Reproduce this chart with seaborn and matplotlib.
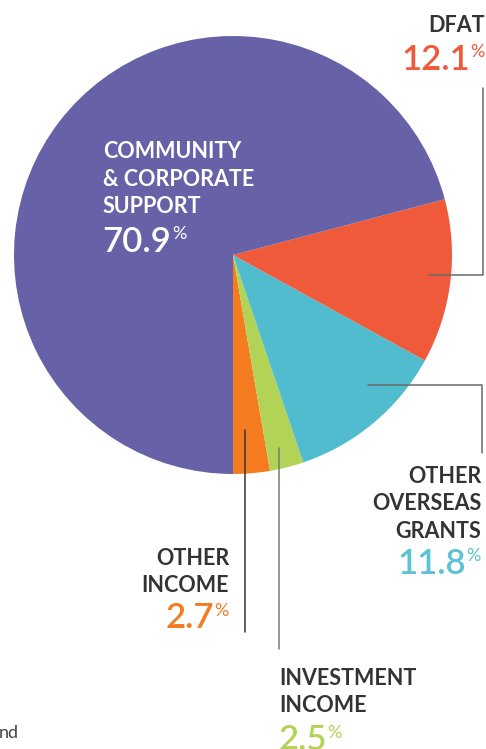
import matplotlib
matplotlib.use('Agg')
import matplotlib.pyplot as plt
import seaborn as sns

sns.set_theme(style='white')
plt.rcParams['font.family'] = ['Lato', 'DejaVu Sans']

# income sources, in the order drawn (clockwise from the bottom)
sources = ['OTHER\nINCOME', 'INVESTMENT\nINCOME', 'OTHER\nOVERSEAS\nGRANTS', 'DFAT',
           'COMMUNITY\n& CORPORATE\nSUPPORT']
shares = [2.7, 2.5, 11.8, 12.1, 70.9]
colors = ['#F47B20', '#B2D355', '#50BCCD', '#EF5A3B', '#6761A7']
text_colors = ['#F47B20', '#B2D355', '#5BC3D3', '#EF5A3B', '#FFFFFF']

fig = plt.figure(figsize=(4.86, 7.49), dpi=100)
ax = fig.add_axes([0, 0, 1, 1])

ax.pie(shares, colors=colors, startangle=90, counterclock=False,
       center=(233, 255), radius=219, wedgeprops={'linewidth': 0})
ax.set_xlim(0, 486)
ax.set_ylim(749, 0)
ax.set_aspect('equal')
ax.axis('off')

dark = '#333333'

# leader lines
ax.plot([429, 483, 483], [275, 275, 88], color='#6a6a6a', lw=1.1)
ax.plot([368, 482, 482], [385, 385, 453], color='#6a6a6a', lw=1.1)
ax.plot([245, 245], [430, 632], color='#333333', lw=1.1)
ax.plot([279, 279], [448, 649], color='#7a7a7a', lw=1.1)


def label(i, x, y_first, ha, color=dark, line_gap=27.5, num_gap=None):
    lines = sources[i].split('\n')
    for k, ln in enumerate(lines):
        ax.text(x, y_first + k * line_gap, ln, ha=ha, va='baseline',
                fontsize=15.5, fontweight='bold', color=color)
    num = f'{shares[i]:.1f}'
    ny = y_first + (len(lines) - 1) * line_gap + num_gap
    inv = ax.transData.inverted()
    if ha == 'left':
        t = ax.text(x - 1, ny, num, ha='left', va='baseline', fontsize=25,
                    fontweight='semibold', color=text_colors[i])
        p = ax.text(x, ny, '%', ha='left', va='baseline', fontsize=13,
                    color=text_colors[i])
        fig.canvas.draw()
        bb_t = t.get_window_extent()
        p.set_x(inv.transform((bb_t.x1 + 1, 0))[0])
    else:
        p = ax.text(x, ny, '%', ha='right', va='baseline', fontsize=13,
                    color=text_colors[i])
        t = ax.text(x, ny, num, ha='right', va='baseline', fontsize=25,
                    fontweight='semibold', color=text_colors[i])
        fig.canvas.draw()
        bb_p = p.get_window_extent()
        t.set_x(inv.transform((bb_p.x0 - 1, 0))[0])
    # raise the % so its top meets the top of the digits
    fig.canvas.draw()
    top_t = inv.transform((0, t.get_window_extent().y1))[1]
    top_p = inv.transform((0, p.get_window_extent().y1))[1]
    p.set_y(ny + (top_t - top_p))


label(3, 485, 32, 'right', num_gap=38)
label(4, 103, 158, 'left', color='#FFFFFF', num_gap=39)
label(2, 481, 483, 'right', num_gap=36)
label(0, 229, 565, 'right', num_gap=36)
label(1, 279, 685, 'left', num_gap=38)

ax.text(-1, 738, 'nd', ha='left', va='baseline', fontsize=13, color='#444444')

fig.savefig('out.png', dpi=100)
